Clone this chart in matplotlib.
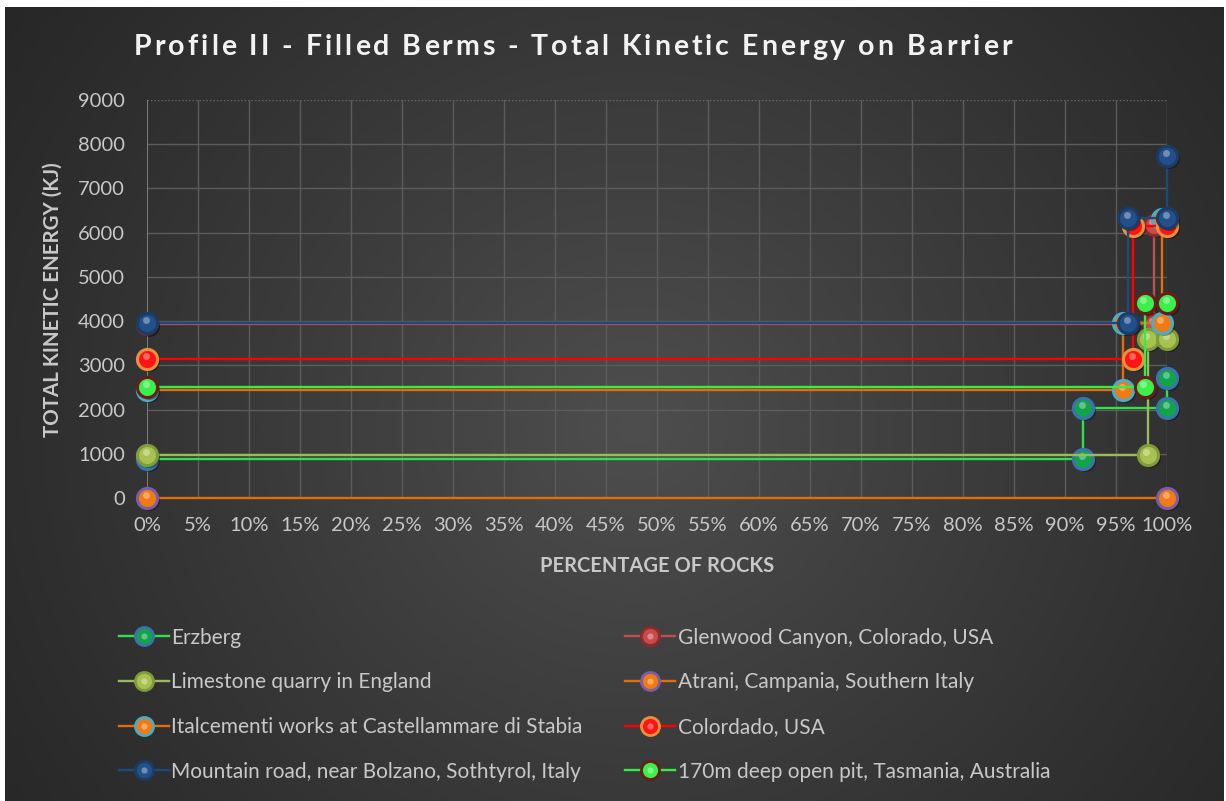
import numpy as np
import matplotlib
matplotlib.use("Agg")
import matplotlib.pyplot as plt
from matplotlib.lines import Line2D
from matplotlib import transforms

plt.rcParams['font.family'] = ['Lato', 'DejaVu Sans']

# ---- data -------------------------------------------------------------
series_names = [
    "Erzberg",
    "Glenwood Canyon, Colorado, USA",
    "Limestone quarry in England",
    "Atrani, Campania, Southern Italy",
    "Italcementi works at Castellammare di Stabia",
    "Colordado, USA",
    "Mountain road, near Bolzano, Sothtyrol, Italy",
    "170m deep open pit, Tasmania, Australia",
]

erzberg_x = [0, 91.8, 91.8, 100, 100]
erzberg_y = [890, 890, 2040, 2040, 2705]

glenwood_x = [0, 98.7, 98.7]
glenwood_y = [3930, 3930, 6180]

limestone_x = [0, 98.1, 98.1, 100]
limestone_y = [970, 970, 3590, 3590]

atrani_x = [0, 100]
atrani_y = [0, 0]

italcementi_x = [0, 95.7, 95.7, 99.5, 99.5]
italcementi_y = [2443, 2443, 3965, 3965, 6320]

colordado_x = [0, 96.7, 96.7, 100]
colordado_y = [3140, 3140, 6140, 6140]

bolzano_x = [0, 96.2, 96.2, 100, 100]
bolzano_y = [3960, 3960, 6340, 6340, 7740]

tasmania_x = [0, 97.8, 97.8, 100]
tasmania_y = [2515, 2515, 4405, 4405]

x_ticks = list(range(0, 101, 5))
x_tick_labels = [f"{t}%" for t in x_ticks]
y_ticks = list(range(0, 9001, 1000))

title = "Profile II - Filled Berms - Total Kinetic Energy on Barrier"

# line colour, marker fill, marker edge
styles = [
    ("#2fe04f", "#12a44a", "#3b72b0"),
    ("#c0504d", "#c94a48", "#8a2c2a"),
    ("#9bbb59", "#a9c24f", "#7f9b3c"),
    ("#e46c0a", "#f07b12", "#7b5ea7"),
    ("#e46c0a", "#f07b12", "#4bacc6"),
    ("#ff0000", "#ff1414", "#e8913c"),
    ("#1f497d", "#24508a", "#1a3c66"),
    ("#33ee44", "#3bf04a", "#6a1c1c"),
]

xs = [erzberg_x, glenwood_x, limestone_x, atrani_x,
      italcementi_x, colordado_x, bolzano_x, tasmania_x]
ys = [erzberg_y, glenwood_y, limestone_y, atrani_y,
      italcementi_y, colordado_y, bolzano_y, tasmania_y]

# ---- figure & background ------------------------------------------------
W, H = 1226, 801
fig = plt.figure(figsize=(W / 100, H / 100), dpi=100, facecolor="white")

bg = fig.add_axes([5 / W, 0, (W - 7) / W, (H - 7) / H], zorder=-10)
bg.set_axis_off()
gy, gx = np.mgrid[0:794, 0:1219]
cx, cy = 630, 420
r = np.sqrt(((gx - cx) / 1.05) ** 2 + ((gy - cy)) ** 2)
t = np.clip(1 - r / 760.0, 0, 1)
val = 0x26 + (0x4e - 0x26) * t ** 1.1
img = np.dstack([val, val, val]) / 255.0
bg.imshow(img, aspect="auto", extent=[0, 1, 0, 1], interpolation="bilinear")
bg.set_xlim(0, 1)
bg.set_ylim(0, 1)

ax = fig.add_axes([147 / W, (H - 498) / H, 1020 / W, 398 / H])
ax.set_facecolor("none")
ax.set_xlim(0, 100)
ax.set_ylim(0, 9000)

grid_c = "#5c5c5c"
ax.set_xticks(x_ticks)
ax.set_xticklabels(x_tick_labels)
ax.set_yticks(y_ticks)
for v in y_ticks[:-1]:
    ax.axhline(v, color=grid_c, lw=1.0, zorder=0)
ax.axhline(9000, color="#6a6a6a", lw=1.0, ls=(0, (1, 1.5)), zorder=0)
for v in x_ticks[1:]:
    ax.axvline(v, color=grid_c, lw=1.0, zorder=0)
ax.axvline(0, color="#8a8a8a", lw=1.2, zorder=0)

for s in ax.spines.values():
    s.set_visible(False)
ax.tick_params(axis="both", length=0, colors="#c8c8c8", labelsize=14.5)
ax.tick_params(axis="x", pad=14)
ax.tick_params(axis="y", pad=16)

# ---- series -------------------------------------------------------------
handles = []
for i, (name, x, y, (lc, fc, ec)) in enumerate(zip(series_names, xs, ys, styles)):
    z = 3 + i
    ax.plot(x, y, color=lc, lw=1.7, zorder=z, solid_joinstyle="miter", clip_on=False)
    shadow = transforms.offset_copy(ax.transData, fig=fig, x=2, y=-2, units="dots")
    ax.plot(x, y, ls="none", marker="o", ms=15, mfc="black", mec="none",
            alpha=0.35, transform=shadow, zorder=z, clip_on=False)
    ax.plot(x, y, ls="none", marker="o", ms=14.5, mfc=fc, mec=ec, mew=2.2,
            zorder=z + 0.1, clip_on=False)
    hl = transforms.offset_copy(ax.transData, fig=fig, x=-1.5, y=3, units="dots")
    ax.plot(x, y, ls="none", marker="o", ms=5, mfc="white", mec="none",
            alpha=0.35, transform=hl, zorder=z + 0.2, clip_on=False)
    h_main = Line2D([], [], color=lc, lw=1.7, marker="o", ms=13, mfc=fc, mec=ec, mew=2)
    h_hl = Line2D([], [], ls="none", marker="o", ms=4.5, mfc="white", mec="none", alpha=0.35)
    handles.append((h_main, h_hl))

# ---- title with letter spacing -----------------------------------------
renderer = fig.canvas.get_renderer()
title_kw = dict(color="#f2f2f2", fontsize=20.5, fontweight="bold", va="center", ha="left")


def text_width(s):
    tt = fig.text(0, 0, s, **title_kw)
    w = tt.get_window_extent(renderer).width
    tt.remove()
    return w


ref_w = text_width("I")
full_w = text_width(title)
x_start, x_end = 134.0, 1012.0
spacing = (x_end - x_start - full_w) / (len(title) - 1)
for i, ch in enumerate(title):
    if ch == " ":
        continue
    pos = 0.0 if i == 0 else text_width(title[:i] + "I") - ref_w
    fig.text((x_start + pos + i * spacing) / W, 1 - 47 / H, ch, **title_kw)

# ---- axis titles ---------------------------------------------------------
fig.text(53 / W, 1 - 300 / H, "TOTAL KINETIC ENERGY (KJ)", color="#c8c8c8",
         fontsize=14.8, fontweight="bold", rotation=90, ha="center", va="center")
fig.text(657 / W, 1 - 566 / H, "PERCENTAGE OF ROCKS", color="#c8c8c8",
         fontsize=14.5, fontweight="bold", ha="center", va="center")

# ---- legend ------------------------------------------------------------
order = [0, 2, 4, 6, 1, 3, 5, 7]
leg = fig.legend([handles[k] for k in order], [series_names[k] for k in order],
                 ncol=2, loc="upper left", bbox_to_anchor=(100 / W, 1 - 609 / H),
                 frameon=False, fontsize=15, labelcolor="#c8c8c8",
                 handlelength=2.4, handletextpad=0.12, labelspacing=1.18,
                 columnspacing=2.05)

fig.savefig("out.png", dpi=100, facecolor=fig.get_facecolor())
